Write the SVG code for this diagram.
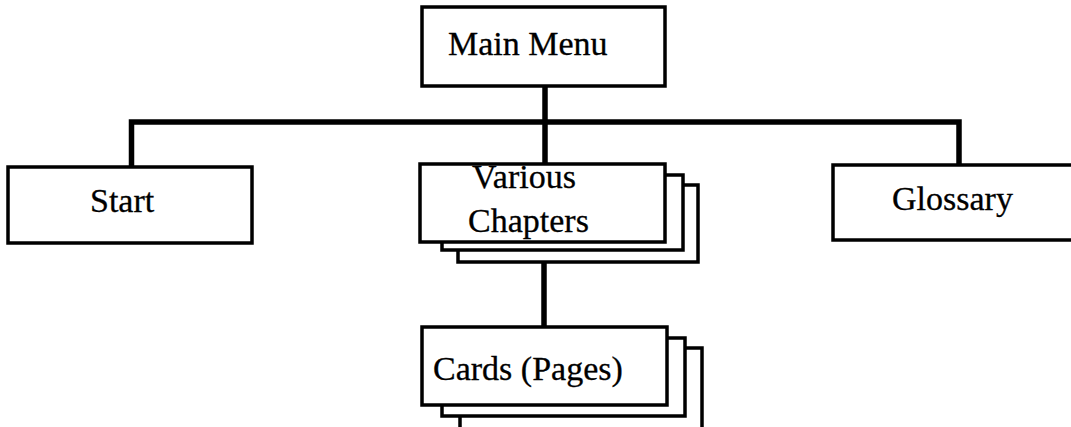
<svg xmlns="http://www.w3.org/2000/svg" width="1071" height="427" viewBox="0 0 1071 427">
<style>
.box{fill:#fff;stroke:#000;stroke-width:3.5}
.conn{fill:none;stroke:#000;stroke-width:5.5;stroke-linejoin:miter;stroke-linecap:butt}
.lbl{font-family:"Liberation Serif","Times New Roman",serif;font-size:34px;fill:#000;stroke:#000;stroke-width:0.3}
</style>
<rect width="1071" height="427" fill="#fff"/>
<g id="connectors">
<line class="conn" x1="545" y1="86" x2="545" y2="164"/>
<polyline class="conn" points="131.5,167 131.5,122 959,122 959,165"/>
<line class="conn" x1="544" y1="262" x2="544" y2="327"/>
</g>
<g id="main-menu">
<rect class="box" x="422" y="7" width="243" height="79"/>
<text class="lbl" x="448" y="55">Main Menu</text>
</g>
<g id="start">
<rect class="box" x="8" y="167" width="244" height="76"/>
<text class="lbl" x="90" y="212">Start</text>
</g>
<g id="chapters">
<rect class="box" x="458" y="185" width="240" height="77"/>
<rect class="box" x="442" y="175" width="241" height="75"/>
<rect class="box" x="420" y="164" width="245" height="78"/>
<text class="lbl" x="472" y="188">Various</text>
<text class="lbl" x="468" y="232">Chapters</text>
</g>
<g id="glossary">
<rect class="box" x="833" y="165" width="250" height="75"/>
<text class="lbl" x="892" y="210">Glossary</text>
</g>
<g id="cards">
<rect class="box" x="460" y="348" width="242" height="85"/>
<rect class="box" x="442" y="338" width="243" height="78"/>
<rect class="box" x="422" y="327" width="245" height="78"/>
<text class="lbl" x="433" y="380">Cards (Pages)</text>
</g>
</svg>
